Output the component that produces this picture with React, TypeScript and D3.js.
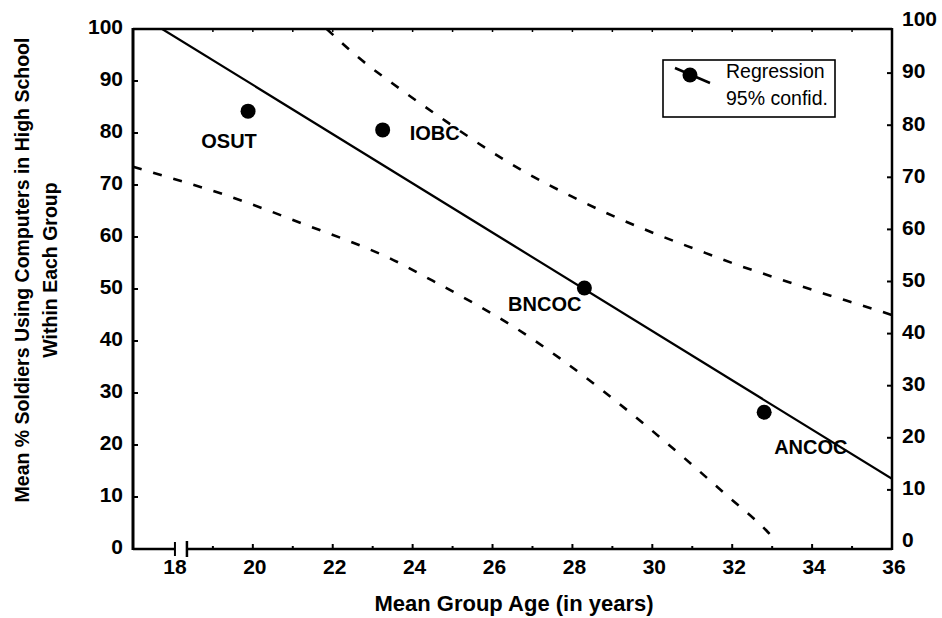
import React from "react";
import * as d3 from "d3";

// ---- data ----
const groups = ["OSUT", "IOBC", "BNCOC", "ANCOC"];
const groupAges = [19.88, 23.25, 28.3, 32.8];
const groupPct = [84.2, 80.6, 50.2, 26.3];

const regAges = [17.73, 36];
const regPct = [100, 13.5];

const upperAges = [21.85, 22.6, 23.68, 24.75, 25.85, 26.88, 27.98, 29.0, 30.05, 31.1, 32.18, 33.23, 34.3, 35.35, 36];
const upperPct = [100, 94.8, 88.5, 82.7, 77.0, 72.2, 67.8, 64.1, 60.7, 57.6, 54.5, 51.8, 49.1, 46.6, 45.0];

const lowerAges = [17, 18.18, 19.23, 20.25, 21.3, 22.38, 23.43, 24.5, 25.5, 26.6, 27.68, 28.75, 29.8, 30.8, 31.85, 32.85, 33.0];
const lowerPct = [73.5, 70.8, 68.3, 65.5, 62.4, 59.3, 55.9, 51.6, 47.4, 42.4, 36.7, 30.5, 24.0, 17.5, 10.4, 3.6, 2.4];

const xTickLabels = [18, 20, 22, 24, 26, 28, 30, 32, 34, 36];
const xMinorTicks = [19, 21, 23, 25, 27, 29, 31, 33, 35];
const yTickLabels = [0, 10, 20, 30, 40, 50, 60, 70, 80, 90, 100];

const legendLabels = ["Regression", "95% confid."];
const xTitle = "Mean Group Age (in years)";
const yTitleLines = ["Mean % Soldiers Using Computers in High School", "Within Each Group"];

// ---- layout ----
const W = 942, H = 618;
const L = 133, R = 892, T = 29, B = 549;
const FONT = "'Liberation Sans', Arial, Helvetica, sans-serif";
const labelOffsets: [number, number, string][] = [
  [-19, 37, "middle"],
  [27, 10, "start"],
  [-3, 23, "end"],
  [10, 42, "start"],
];

export default function App() {
  const x = d3.scaleLinear().domain([17, 36]).range([L, R]);
  const y = d3.scaleLinear().domain([0, 100]).range([B, T]);
  const yR = d3.scaleLinear().domain([0, 100]).range([B - 7, T - 8]);

  const line = d3
    .line<[number, number]>()
    .x((d) => x(d[0]))
    .y((d) => y(d[1]))
    .curve(d3.curveMonotoneX);
  const straight = d3
    .line<[number, number]>()
    .x((d) => x(d[0]))
    .y((d) => y(d[1]));

  const regPath = straight(regAges.map((a, i) => [a, regPct[i]] as [number, number]))!;
  const upPath = line(upperAges.map((a, i) => [a, upperPct[i]] as [number, number]))!;
  const loPath = line(lowerAges.map((a, i) => [a, lowerPct[i]] as [number, number]))!;

  const breakX1 = x(18) + 2;
  const breakX2 = x(18.3) + 2;

  return (
    <svg width={W} height={H} style={{ position: "absolute", left: 0, top: 0, background: "#fff" }} fontFamily={FONT}>
      <rect x={0} y={0} width={W} height={H} fill="#fff" />
      <defs>
        <clipPath id="plot">
          <rect x={L} y={T} width={R - L} height={B - T} />
        </clipPath>
      </defs>

      {/* frame */}
      <line x1={L} y1={T} x2={R} y2={T} stroke="#000" strokeWidth={2.5} />
      <line x1={L} y1={T - 1} x2={L} y2={B + 1} stroke="#000" strokeWidth={3} />
      <line x1={R} y1={T - 1} x2={R} y2={B + 1} stroke="#000" strokeWidth={2.5} />
      <line x1={L} y1={B} x2={breakX1} y2={B} stroke="#000" strokeWidth={2.5} />
      <line x1={breakX2} y1={B} x2={R} y2={B} stroke="#000" strokeWidth={2.5} />
      <line x1={breakX1} y1={B - 7} x2={breakX1} y2={B + 7} stroke="#000" strokeWidth={2} />
      <line x1={breakX2} y1={B - 8} x2={breakX2} y2={B + 8} stroke="#000" strokeWidth={2.5} />

      {/* x ticks */}
      {xTickLabels.map((v) => (
        <g key={"xt" + v}>
          {v !== 18 && v !== 36 && <line x1={x(v)} x2={x(v)} y1={B} y2={B - 5} stroke="#000" strokeWidth={2} />}
          <text x={x(v) + 2} y={574} textAnchor="middle" fontSize={21} fontWeight="bold">
            {v}
          </text>
        </g>
      ))}
      {xMinorTicks.map((v) => (
        <line key={"xm" + v} x1={x(v)} x2={x(v)} y1={B} y2={B - 3} stroke="#000" strokeWidth={2} />
      ))}
      {d3.range(19, 36).map((v) => (
        <line key={"top" + v} x1={x(v)} x2={x(v)} y1={T} y2={T + 3} stroke="#000" strokeWidth={1.5} />
      ))}

      {/* y ticks left */}
      {yTickLabels.map((v) => (
        <g key={"yl" + v}>
          {v !== 0 && v !== 100 && <line x1={L} x2={L + 5} y1={y(v)} y2={y(v)} stroke="#000" strokeWidth={2} />}
          <text x={123} y={y(v) - 2} dy="0.35em" textAnchor="end" fontSize={21} fontWeight="bold">
            {v}
          </text>
        </g>
      ))}
      {/* y ticks right */}
      {yTickLabels.map((v) => (
        <g key={"yr" + v}>
          {v !== 0 && v !== 100 && <line x1={R} x2={R - 5} y1={yR(v)} y2={yR(v)} stroke="#000" strokeWidth={2} />}
          <text x={902} y={yR(v) - 2} dy="0.35em" textAnchor="start" fontSize={21} fontWeight="bold">
            {v}
          </text>
        </g>
      ))}

      {/* lines */}
      <g clipPath="url(#plot)">
        <path d={regPath} fill="none" stroke="#000" strokeWidth={2.2} />
        <path d={upPath} fill="none" stroke="#000" strokeWidth={2.6} strokeDasharray="9,12" />
        <path d={loPath} fill="none" stroke="#000" strokeWidth={2.6} strokeDasharray="9,12" />
      </g>

      {/* points */}
      {groups.map((g, i) => {
        const [dx, dy, anchor] = labelOffsets[i];
        return (
          <g key={g}>
            <circle cx={x(groupAges[i])} cy={y(groupPct[i])} r={7.5} fill="#000" />
            <text
              x={x(groupAges[i]) + dx}
              y={y(groupPct[i]) + dy}
              textAnchor={anchor as any}
              fontSize={20}
              fontWeight="bold"
            >
              {g}
            </text>
          </g>
        );
      })}

      {/* legend */}
      <rect x={663} y={60} width={172} height={57} fill="#fff" stroke="#000" strokeWidth={1.6} />
      <line x1={675} y1={68} x2={710} y2={83} stroke="#000" strokeWidth={2.5} />
      <circle cx={690} cy={75} r={7.5} fill="#000" />
      <text x={726} y={78} fontSize={19.5}>{legendLabels[0]}</text>
      <text x={726} y={105} fontSize={19.5}>{legendLabels[1]}</text>

      {/* titles */}
      <text x={514} y={611} textAnchor="middle" fontSize={22} fontWeight="bold">
        {xTitle}
      </text>
      <text transform="translate(29,270) rotate(-90)" textAnchor="middle" fontSize={19.5} fontWeight="bold">
        {yTitleLines[0]}
      </text>
      <text transform="translate(57,270) rotate(-90)" textAnchor="middle" fontSize={19.5} fontWeight="bold">
        {yTitleLines[1]}
      </text>
    </svg>
  );
}
